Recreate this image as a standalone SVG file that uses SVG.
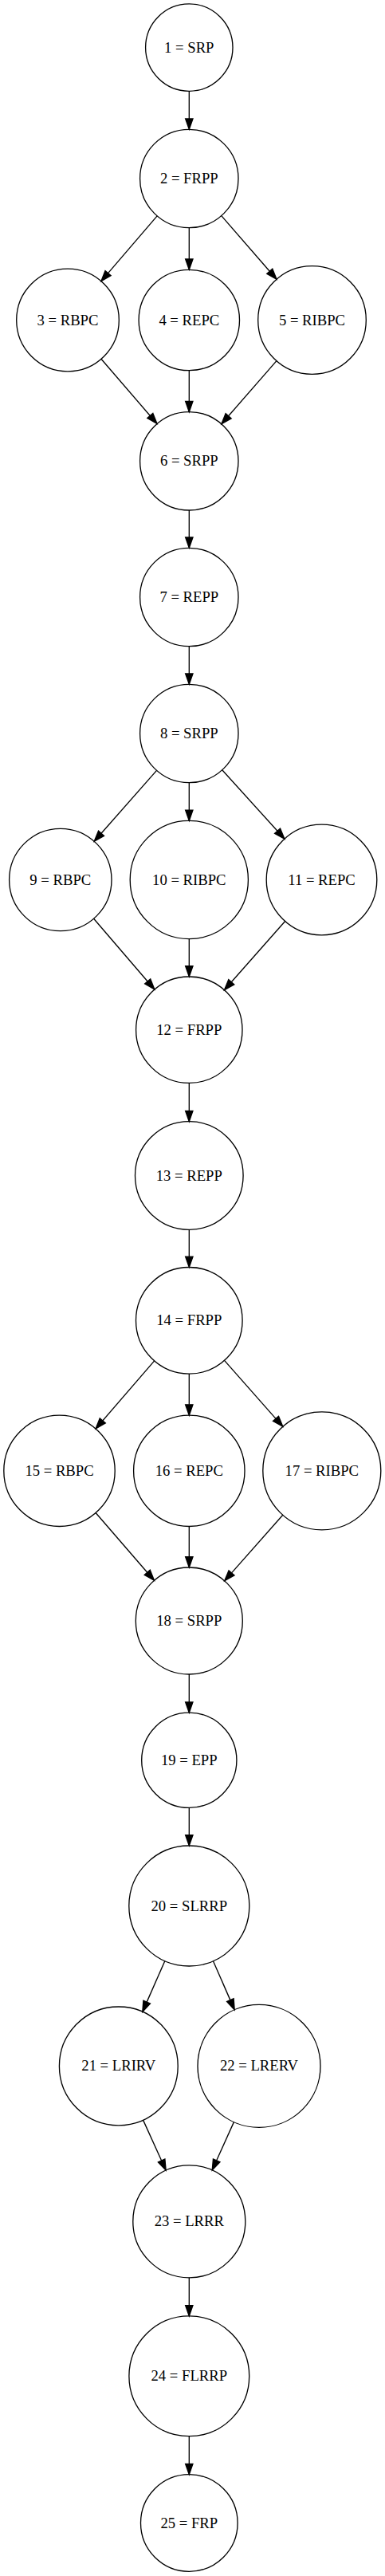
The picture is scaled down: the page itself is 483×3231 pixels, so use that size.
<svg xmlns="http://www.w3.org/2000/svg" width="483" height="3231" viewBox="0 0 483 3231">
<style>
.node circle{fill:none;stroke:#000;stroke-width:1.33}
.node text{font-family:"Liberation Serif","Times New Roman",serif;font-size:18.67px;text-anchor:middle;fill:#000}
.edge line{stroke:#000;stroke-width:1.33;marker-end:url(#ah)}
</style>
<defs>
<marker id="ah" markerUnits="userSpaceOnUse" orient="auto" viewBox="-1 -6 16 12" markerWidth="16" markerHeight="12" refX="0" refY="0" overflow="visible">
<path d="M0,-4.67 L13.33,0 L0,4.67 Z" fill="#000" stroke="#000" stroke-width="1.33"/>
</marker>
</defs>
<rect x="0" y="0" width="483" height="3231" fill="#fff"/>
<g id="edges" class="edge">
<line x1="237.3" y1="114.3" x2="237.3" y2="149"/>
<line x1="197.13" y1="270.82" x2="135.55" y2="342.58"/>
<line x1="237.3" y1="285.7" x2="237.3" y2="325"/>
<line x1="277.77" y1="270.58" x2="338.29" y2="340.25"/>
<line x1="126.97" y1="450.22" x2="188.33" y2="521.45"/>
<line x1="237.3" y1="464.7" x2="237.3" y2="503.3"/>
<line x1="346.93" y1="452.6" x2="286.62" y2="521.75"/>
<line x1="237.3" y1="640" x2="237.3" y2="674"/>
<line x1="237.3" y1="810.7" x2="237.3" y2="845"/>
<line x1="196.53" y1="966.32" x2="127.03" y2="1045.3"/>
<line x1="237.3" y1="981.7" x2="237.3" y2="1016.1"/>
<line x1="278.72" y1="965.73" x2="348.03" y2="1042.26"/>
<line x1="117.61" y1="1152.22" x2="185.19" y2="1230.96"/>
<line x1="237.3" y1="1177.6" x2="237.3" y2="1211.7"/>
<line x1="357.63" y1="1155.45" x2="290.27" y2="1231.71"/>
<line x1="237.3" y1="1358.4" x2="237.3" y2="1393.4"/>
<line x1="237.3" y1="1542.3" x2="237.3" y2="1576.2"/>
<line x1="193.64" y1="1706.85" x2="128.77" y2="1781.96"/>
<line x1="237.3" y1="1723.1" x2="237.3" y2="1761.8"/>
<line x1="281.52" y1="1706.37" x2="345.99" y2="1779.35"/>
<line x1="120.1" y1="1897.51" x2="184.75" y2="1972.25"/>
<line x1="237.3" y1="1914.5" x2="237.3" y2="1952.7"/>
<line x1="354.77" y1="1900.23" x2="290.52" y2="1972.84"/>
<line x1="237.3" y1="2100" x2="237.3" y2="2134.9"/>
<line x1="237.3" y1="2267.4" x2="237.3" y2="2301.7"/>
<line x1="206.87" y1="2459.59" x2="184.16" y2="2511.12"/>
<line x1="267.51" y1="2459.69" x2="288.86" y2="2508.61"/>
<line x1="179.56" y1="2659.14" x2="202.64" y2="2709.97"/>
<line x1="293.41" y1="2661.62" x2="271.7" y2="2709.85"/>
<line x1="237.3" y1="2856.8" x2="237.3" y2="2891.6"/>
<line x1="237.3" y1="3055.7" x2="237.3" y2="3090.4"/>
</g>
<g id="n1" class="node"><circle cx="237.3" cy="59.6" r="54.7"/><text x="237.3" y="65.6">1 = SRP</text></g>
<g id="n2" class="node"><circle cx="237.3" cy="224" r="61.7"/><text x="237.3" y="230">2 = FRPP</text></g>
<g id="n3" class="node"><circle cx="85" cy="401.5" r="64.3"/><text x="85" y="407.5">3 = RBPC</text></g>
<g id="n4" class="node"><circle cx="237.3" cy="401.5" r="63.2"/><text x="237.3" y="407.5">4 = REPC</text></g>
<g id="n5" class="node"><circle cx="391.5" cy="401.5" r="67.8"/><text x="391.5" y="407.5">5 = RIBPC</text></g>
<g id="n6" class="node"><circle cx="237.3" cy="578.3" r="61.7"/><text x="237.3" y="584.3">6 = SRPP</text></g>
<g id="n7" class="node"><circle cx="237.3" cy="749" r="61.7"/><text x="237.3" y="755">7 = REPP</text></g>
<g id="n8" class="node"><circle cx="237.3" cy="920" r="61.7"/><text x="237.3" y="926">8 = SRPP</text></g>
<g id="n9" class="node"><circle cx="75.8" cy="1103.5" r="64.2"/><text x="75.8" y="1109.5">9 = RBPC</text></g>
<g id="n10" class="node"><circle cx="237.3" cy="1103.5" r="74.1"/><text x="237.3" y="1109.5">10 = RIBPC</text></g>
<g id="n11" class="node"><circle cx="403.5" cy="1103.5" r="69.3"/><text x="403.5" y="1109.5">11 = REPC</text></g>
<g id="n12" class="node"><circle cx="237.3" cy="1291.7" r="66.7"/><text x="237.3" y="1297.7">12 = FRPP</text></g>
<g id="n13" class="node"><circle cx="237.3" cy="1474.5" r="67.8"/><text x="237.3" y="1480.5">13 = REPP</text></g>
<g id="n14" class="node"><circle cx="237.3" cy="1656.3" r="66.8"/><text x="237.3" y="1662.3">14 = FRPP</text></g>
<g id="n15" class="node"><circle cx="74.5" cy="1844.8" r="69.7"/><text x="74.5" y="1850.8">15 = RBPC</text></g>
<g id="n16" class="node"><circle cx="237.3" cy="1844.8" r="69.7"/><text x="237.3" y="1850.8">16 = REPC</text></g>
<g id="n17" class="node"><circle cx="403.8" cy="1844.8" r="74"/><text x="403.8" y="1850.8">17 = RIBPC</text></g>
<g id="n18" class="node"><circle cx="237.3" cy="2033" r="67"/><text x="237.3" y="2039">18 = SRPP</text></g>
<g id="n19" class="node"><circle cx="237.3" cy="2207.8" r="59.6"/><text x="237.3" y="2213.8">19 = EPP</text></g>
<g id="n20" class="node"><circle cx="237.3" cy="2390.5" r="75.5"/><text x="237.3" y="2396.5">20 = SLRRP</text></g>
<g id="n21" class="node"><circle cx="148.8" cy="2591.4" r="74.4"/><text x="148.8" y="2597.4">21 = LRIRV</text></g>
<g id="n22" class="node"><circle cx="325" cy="2591.4" r="77"/><text x="325" y="2597.4">22 = LRERV</text></g>
<g id="n23" class="node"><circle cx="237.3" cy="2786.3" r="70.5"/><text x="237.3" y="2792.3">23 = LRRR</text></g>
<g id="n24" class="node"><circle cx="237.3" cy="2980.3" r="75.4"/><text x="237.3" y="2986.3">24 = FLRRP</text></g>
<g id="n25" class="node"><circle cx="237.3" cy="3164.5" r="60.8"/><text x="237.3" y="3170.5">25 = FRP</text></g>
</svg>
